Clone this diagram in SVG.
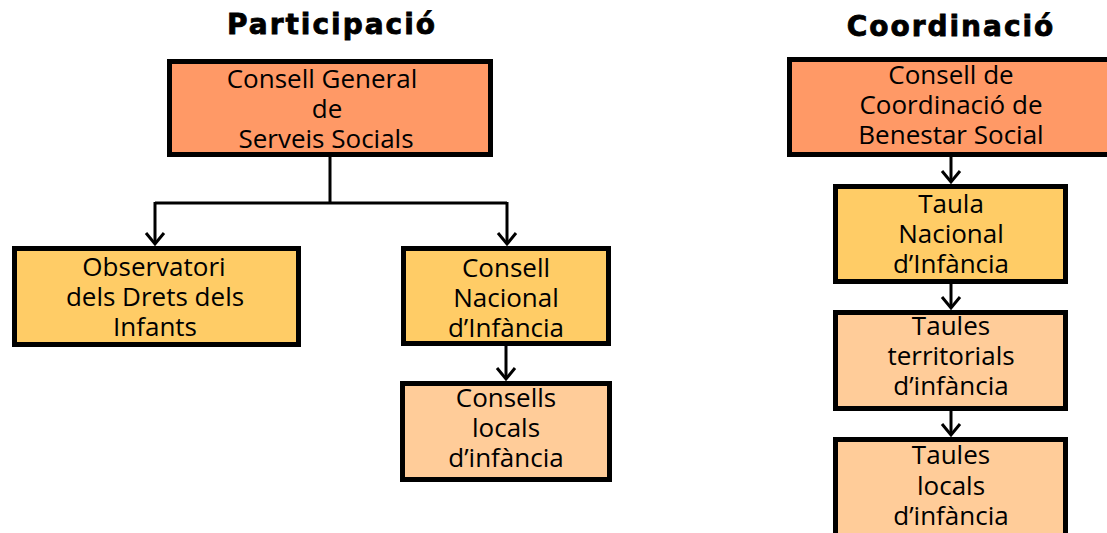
<svg xmlns="http://www.w3.org/2000/svg" width="1107" height="533" viewBox="0 0 1107 533">
<style>
.box{stroke:#000;stroke-width:5}
.c1{fill:#FF9966}
.c2{fill:#FFCC66}
.c3{fill:#FFCC99}
.t{font-family:"Open Sans","Liberation Sans",sans-serif;font-size:26px;fill:#000;text-anchor:middle}
.title{font-family:"DejaVu Sans",sans-serif;font-weight:bold;font-size:28px;letter-spacing:2px;fill:#000;stroke:#000;stroke-width:0.8;text-anchor:middle}
.ln{fill:none;stroke:#000;stroke-width:3}
</style>
<defs>
<marker id="arr" markerUnits="userSpaceOnUse" markerWidth="30" markerHeight="30" viewBox="-15 -15 30 30" refX="0" refY="0" orient="auto">
<path d="M-11,-9 L0,0 L-11,9" fill="none" stroke="#000" stroke-width="3"/>
</marker>
</defs>
<text class="title" x="332" y="34">Participació</text>
<text class="title" x="951" y="36">Coordinació</text>
<g id="connectors">
<path class="ln" d="M330,157 V203 M155,203 H507"/>
<path class="ln" d="M155,202 V244" marker-end="url(#arr)"/>
<path class="ln" d="M507,202 V244" marker-end="url(#arr)"/>
<path class="ln" d="M506,346 V379" marker-end="url(#arr)"/>
<path class="ln" d="M951,157 V182" marker-end="url(#arr)"/>
<path class="ln" d="M951,284 V308" marker-end="url(#arr)"/>
<path class="ln" d="M951,411 V435" marker-end="url(#arr)"/>
</g>
<g id="consell-general">
<rect class="box c1" x="169.5" y="61.5" width="321" height="93"/>
<text class="t" x="322" y="88">Consell General</text>
<text class="t" x="327" y="118">de</text>
<text class="t" x="326" y="148">Serveis Socials</text>
</g>
<g id="observatori">
<rect class="box c2" x="14.5" y="248.5" width="284" height="96"/>
<text class="t" x="154" y="276">Observatori</text>
<text class="t" x="155" y="306">dels Drets dels</text>
<text class="t" x="155" y="336">Infants</text>
</g>
<g id="consell-nacional">
<rect class="box c2" x="403.5" y="248.5" width="205" height="95"/>
<text class="t" x="506" y="277">Consell</text>
<text class="t" x="506" y="307">Nacional</text>
<text class="t" x="506" y="337">d’Infància</text>
</g>
<g id="consells-locals">
<rect class="box c3" x="402.5" y="383.5" width="207" height="96"/>
<text class="t" x="506" y="407">Consells</text>
<text class="t" x="506" y="437">locals</text>
<text class="t" x="506" y="467">d’infància</text>
</g>
<g id="consell-coordinacio">
<rect class="box c1" x="789.5" y="59.5" width="321" height="95"/>
<text class="t" x="951" y="84">Consell de</text>
<text class="t" x="951" y="114">Coordinació de</text>
<text class="t" x="951" y="144">Benestar Social</text>
</g>
<g id="taula-nacional">
<rect class="box c2" x="835.5" y="186.5" width="230" height="95"/>
<text class="t" x="951" y="213">Taula</text>
<text class="t" x="951" y="243">Nacional</text>
<text class="t" x="951" y="273">d’Infància</text>
</g>
<g id="taules-territorials">
<rect class="box c3" x="835.5" y="312.5" width="230" height="96"/>
<text class="t" x="951" y="335">Taules</text>
<text class="t" x="951" y="365">territorials</text>
<text class="t" x="951" y="395">d’infància</text>
</g>
<g id="taules-locals">
<rect class="box c3" x="835.5" y="439.5" width="230" height="100"/>
<text class="t" x="951" y="464">Taules</text>
<text class="t" x="951" y="495">locals</text>
<text class="t" x="951" y="525">d’infància</text>
</g>
</svg>
